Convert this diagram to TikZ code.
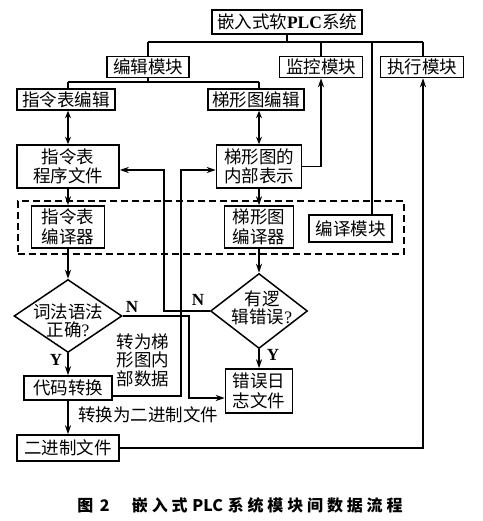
\documentclass[tikz,border=0pt]{standalone}
\usepackage{fontspec}
\setmainfont{Liberation Serif}
\newfontfamily\cjk{Noto Sans CJK SC}
\newfontfamily\capfont[LetterSpace=24]{Noto Sans CJK SC}
\newfontfamily\capplain{Noto Sans CJK SC}
\usetikzlibrary{arrows.meta,shapes.geometric}
\begin{document}
\begin{tikzpicture}[x=1pt,y=-1pt,
  box/.style={draw,line width=1.5pt,inner sep=0pt,align=center,
    font=\cjk\fontsize{17.5}{19.5}\selectfont},
  dia/.style={draw,diamond,line width=1.5pt,inner sep=0pt},
  txt/.style={inner sep=0pt,align=center,font=\cjk\fontsize{17.5}{18.5}\selectfont},
  yn/.style={inner sep=0pt,font=\rmfamily\bfseries\fontsize{17}{17}\selectfont},
  ln/.style={line width=1.5pt},
  arr/.style={line width=1.5pt,-{Stealth[length=9pt,width=6pt]}},
  dbl/.style={line width=1.5pt,{Stealth[length=7.5pt,width=6pt]}-{Stealth[length=7.5pt,width=6pt]}},
  dashbox/.style={draw,line width=1.5pt,dash pattern=on 7pt off 4pt,inner sep=0pt}]
\useasboundingbox (0,0) rectangle (482,521);

% dashed compiler region
\node[dashbox,minimum width=386pt,minimum height=53pt] (cmp) at (211,227.5) {};

% boxes
\node[box,minimum width=150pt,minimum height=24pt] (top) at (287,22) {嵌入式软{\rmfamily\bfseries PLC}系统};
\node[box,minimum width=82pt,minimum height=21pt] (edit) at (148,67) {编辑模块};
\node[box,minimum width=83pt,minimum height=21pt] (monitor) at (321,67) {监控模块};
\node[box,minimum width=83pt,minimum height=21pt] (exec) at (422,67) {执行模块};
\node[box,minimum width=98pt,minimum height=21pt] (ilEdit) at (66,99.5) {指令表编辑};
\node[box,minimum width=96pt,minimum height=21pt] (ldEdit) at (256,99.5) {梯形图编辑};
\node[box,minimum width=102pt,minimum height=43pt] (ilFile) at (68,166.5) {指令表\\程序文件};
\node[box,minimum width=85pt,minimum height=43pt] (ldRep) at (259,166.5) {梯形图的\\内部表示};
\node[box,minimum width=73pt,minimum height=42pt] (ilComp) at (68,227) {指令表\\编译器};
\node[box,minimum width=69pt,minimum height=42pt] (ldComp) at (259,227) {梯形图\\编译器};
\node[box,minimum width=83pt,minimum height=27pt] (compMod) at (350.5,228.5) {编译模块};
\node[dia,minimum width=108pt,minimum height=73pt] (d1) at (68,316) {};
\node[txt] (d1t) at (68,321) {词法语法\\正确{\rmfamily ?}};
\node[dia,minimum width=97pt,minimum height=75pt] (d2) at (259,311) {};
\node[txt] (d2t) at (262,308) {有逻\\辑错误{\rmfamily ?}};
\node[box,minimum width=88pt,minimum height=24pt] (codeConv) at (68,388) {代码转换};
\node[box,minimum width=67pt,minimum height=44pt] (errLog) at (259,391) {错误日\\志文件};
\node[box,minimum width=102pt,minimum height=26pt] (bin) at (68,448) {二进制文件};

% labels
\node[yn] (n1) at (132,307) {N};
\node[yn] (y1) at (56,360) {Y};
\node[yn] (n2) at (198,300) {N};
\node[yn] (y2) at (273,355) {Y};
\node[txt] (t1) at (143,360) {转为梯\\形图内\\部数据};
\node[txt] (t2) at (148,415) {转换为二进制文件};
\node[inner sep=0pt,font=\capfont\bfseries\fontsize{16}{16}\selectfont] (cap) at (240,505)
  {图\hspace{0.4em}{\capplain\bfseries 2}\hspace{1.4em}嵌入式\hspace{0.3em}{\capplain\bfseries PLC}\hspace{0.3em}系统模块间数据流程};

% top bus
\coordinate (b1L) at (148,42);
\coordinate (b1R) at (423,42);
\coordinate (jc) at (372,42);
\draw[ln] (top.south) -- (top.south |- b1L);
\draw[ln] (b1L) -- (b1R);
\draw[ln] (b1L) -- (edit.north);
\draw[ln] (monitor.north |- b1L) -- (monitor.north);
\draw[ln] (b1R) -- (b1R |- exec.north);
\draw[ln] (jc) -- (jc |- compMod.north);

% edit bus
\coordinate (b2L) at (68,82);
\coordinate (b2R) at (259,82);
\draw[ln] (edit.south) -- (edit.south |- b2L);
\draw[ln] (b2L) -- (b2R);
\draw[ln] (b2L) -- (b2L |- ilEdit.north);
\draw[ln] (b2R) -- (b2R |- ldEdit.north);

% double arrows
\draw[dbl] (ilFile.north |- ilEdit.south) -- (ilFile.north);
\draw[dbl] (ldRep.north |- ldEdit.south) -- (ldRep.north);

% to monitor
\draw[arr] (ldRep.east) -| (monitor.south);

% vertical flows
\draw[arr] (ilFile.south) -- (ilComp.north);
\draw[arr] (ldRep.south) -- (ldComp.north);
\draw[arr] (ilComp.south) -- (d1.north);
\draw[arr] (ldComp.south) -- (d2.north);
\draw[arr] (d1.south) -- (codeConv.north);
\draw[arr] (d2.south) -- (errLog.north);
\draw[arr] (codeConv.south) -- (bin.north);

% N of d2 back to ilFile
\coordinate (p1) at (164,170);
\draw[arr] (d2.west) -| (p1) -- (p1 -| ilFile.east);

% code conversion to ladder representation
\coordinate (p2) at (181,396);
\coordinate (p3) at (181,170);
\draw[arr] (p2 -| codeConv.east) -- (p2) -- (p3) -- (p3 -| ldRep.west);

% N of d1 to error log
\coordinate (p4) at (189,398);
\draw[arr] (d1.east) -| (p4) -- (p4 -| errLog.west);

% binary file to exec
\draw[arr] (bin.east) -| (b1R |- exec.south);
\end{tikzpicture}
\end{document}
